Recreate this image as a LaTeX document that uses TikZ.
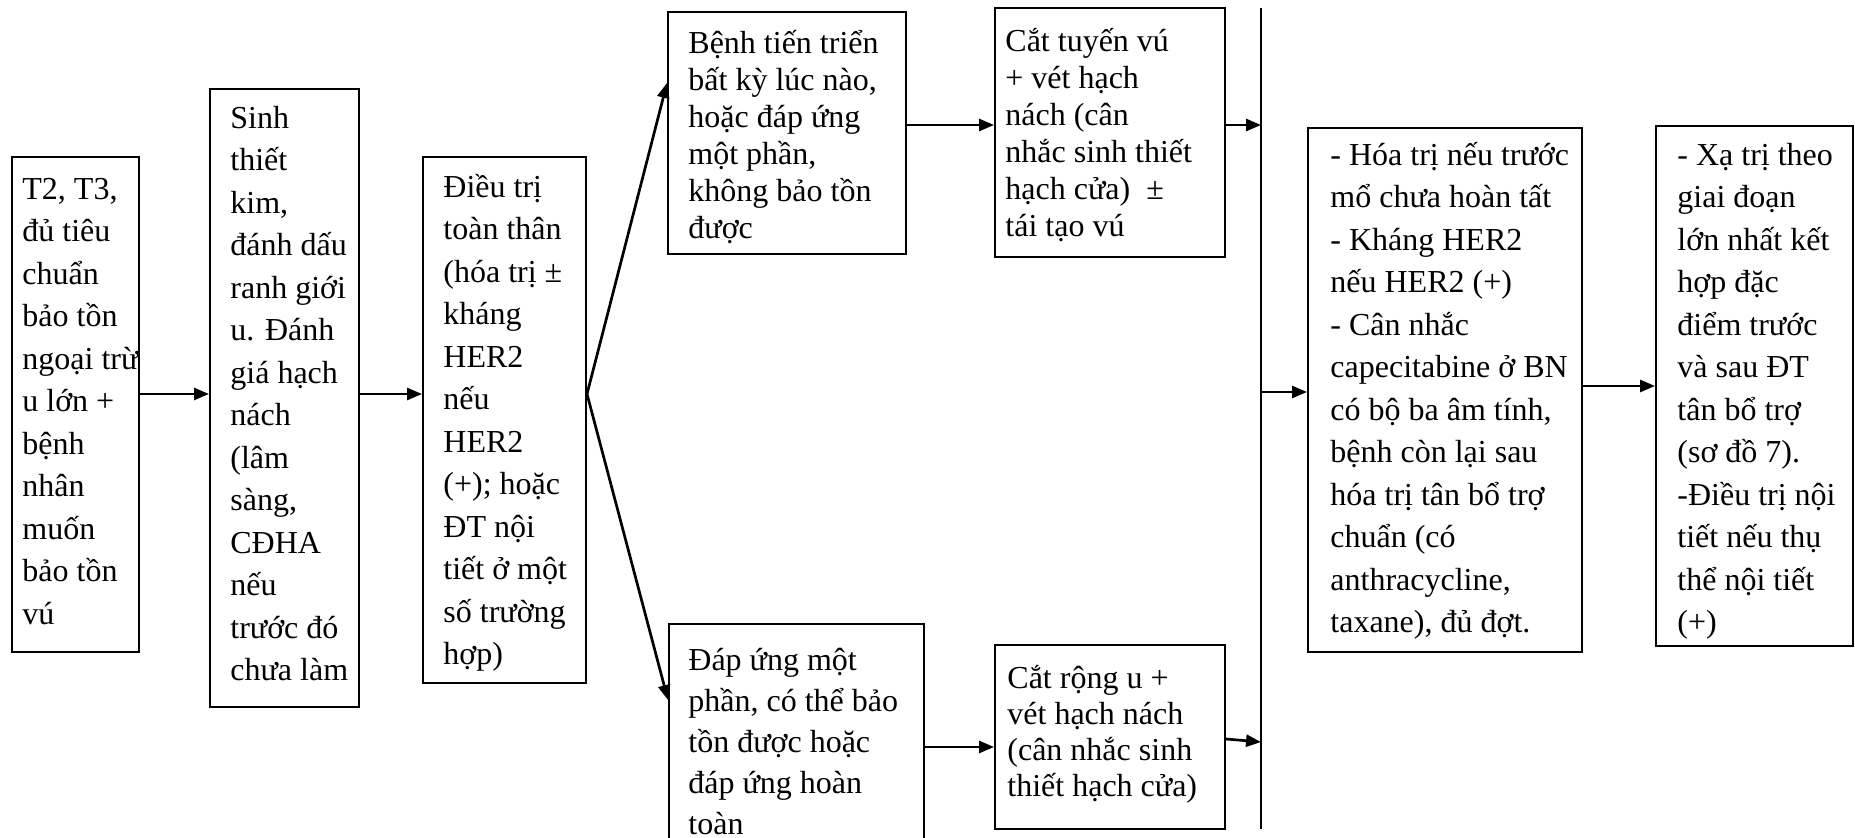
\documentclass[tikz,border=0pt]{standalone}
\usepackage{fontspec}
\setmainfont{Liberation Serif}
\usetikzlibrary{arrows.meta,fit}
\newcommand{\wide}{\fontsize{16pt}{21.25pt}\selectfont\lineskiplimit=-30pt}
\newcommand{\tightsp}{\fontsize{16pt}{18.5pt}\selectfont\lineskiplimit=-30pt}
\newcommand{\ninesp}{\fontsize{16pt}{18pt}\selectfont\lineskiplimit=-30pt}
\newcommand{\midsp}{\fontsize{16pt}{20.5pt}\selectfont\lineskiplimit=-30pt}
\newcommand{\fl}{\rule{0pt}{15pt}}
\begin{document}
\begin{tikzpicture}[x=0.5pt,y=-0.5pt,
  box/.style={draw, line width=1pt, inner sep=0pt, rectangle},
  txt/.style={anchor=north west, inner sep=0pt, align=left, font=\wide},
  tightbox/.style={txt, font=\tightsp},
  ninebox/.style={txt, font=\ninesp},
  midbox/.style={txt, font=\midsp},
  arr/.style={line width=1.35pt, -{Triangle[length=7.5pt,width=6pt]}},
  vline/.style={line width=1pt}]
\useasboundingbox (0,0) rectangle (1855,838);
% boxes
\node[box, fit={(12,157) (139,652)}] (b1) {};
\node[box, fit={(210,89) (359,707)}] (b2) {};
\node[box, fit={(423,157) (586,683)}] (b3) {};
\node[box, fit={(668,12) (906,254)}] (b4) {};
\node[box, fit={(995,8) (1225,257)}] (b5) {};
\node[box, fit={(1308,128) (1582,652)}] (b6) {};
\node[box, fit={(1656,126) (1853,646)}] (b7) {};
\node[box, fit={(669,624) (924,850)}] (b8) {};
\node[box, fit={(995,645) (1225,829)}] (b9) {};
% texts
\node[txt] (t1) at (22,169) {\fl T2, T3,\\đủ tiêu\\chuẩn\\bảo tồn\\ngoại trừ\\u lớn +\\bệnh\\nhân\\muốn\\bảo tồn\\vú};
\node[txt] (t2) at (230,98) {\fl Sinh\\thiết\\kim,\\đánh dấu\\ranh giới\\u. Đánh\\giá hạch\\nách\\(lâm\\sàng,\\CĐHA\\nếu\\trước đó\\chưa làm};
\node[txt] (t3) at (443,167) {\fl Điều trị\\toàn thân\\(hóa trị ±\\kháng\\HER2\\nếu\\HER2\\(+); hoặc\\ĐT nội\\tiết ở một\\số trường\\hợp)};
\node[tightbox] (t4) at (688,23) {\fl Bệnh tiến triển\\bất kỳ lúc nào,\\hoặc đáp ứng\\một phần,\\không bảo tồn\\được};
\node[tightbox] (t5) at (1005,21) {\fl Cắt tuyến vú\\+ vét hạch\\nách (cân\\nhắc sinh thiết\\hạch cửa)\ \ ±\\tái tạo vú};
\node[txt] (t6) at (1330,135) {\fl - Hóa trị nếu trước\\mổ chưa hoàn tất\\- Kháng HER2\\nếu HER2 (+)\\- Cân nhắc\\capecitabine ở BN\\có bộ ba âm tính,\\bệnh còn lại sau\\hóa trị tân bổ trợ\\chuẩn (có\\anthracycline,\\taxane), đủ đợt.};
\node[txt] (t7) at (1677,135) {\fl - Xạ trị theo\\giai đoạn\\lớn nhất kết\\hợp đặc\\điểm trước\\và sau ĐT\\tân bổ trợ\\(sơ đồ 7).\\-Điều trị nội\\tiết nếu thụ\\thể nội tiết\\(+)};
\node[midbox] (t8) at (688,640) {\fl Đáp ứng một\\phần, có thể bảo\\tồn được hoặc\\đáp ứng hoàn\\toàn};
\node[ninebox] (t9) at (1007,658) {\fl Cắt rộng u +\\vét hạch nách\\(cân nhắc sinh\\thiết hạch cửa)};
% vertical bar
\coordinate (Ltop) at (1261,8);
\coordinate (Lbot) at (1261,829);
\draw[vline] (Ltop) -- (Lbot);
% rows for connectors
\coordinate (r1) at (0,394);
\coordinate (r4) at (0,83);
\coordinate (r8) at (0,700);
\coordinate (r45) at (0,125);
\coordinate (r89) at (0,747);
\coordinate (r9a) at (0,739);
\coordinate (r9b) at (0,742);
\coordinate (r6) at (0,392);
\coordinate (r7) at (0,386);
% connectors
\draw[arr] (b1.east |- r1) -- (b2.west |- r1);
\draw[arr] (b2.east |- r1) -- (b3.west |- r1);
\draw[arr] (b3.east |- r1) -- (b4.west |- r4);
\draw[arr] (b3.east |- r1) -- (b8.west |- r8);
\draw[arr] (b4.east |- r45) -- (b5.west |- r45);
\draw[arr] (b5.east |- r45) -- (Ltop |- r45);
\draw[arr] (b8.east |- r89) -- (b9.west |- r89);
\draw[arr] (b9.east |- r9a) -- (Ltop |- r9b);
\draw[arr] (Ltop |- r6) -- (b6.west |- r6);
\draw[arr] (b6.east |- r7) -- (b7.west |- r7);
\end{tikzpicture}
\end{document}
